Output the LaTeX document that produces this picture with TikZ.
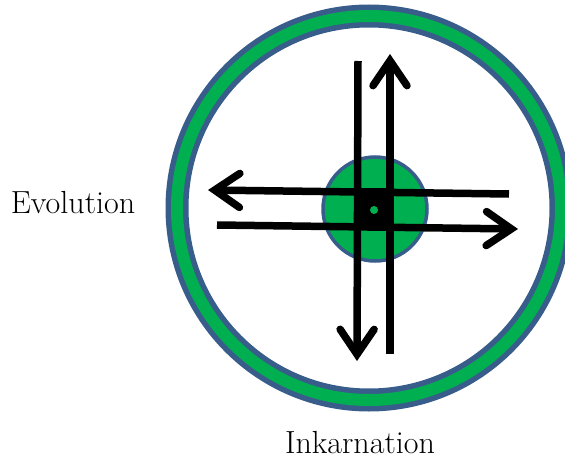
\documentclass[tikz,border=0pt]{standalone}
\usepackage{tikz}
\usetikzlibrary{arrows.meta}
\definecolor{cRim} {HTML}{385D8A}
\definecolor{cCore}{HTML}{00B050}
\tikzset{
  rimout/.style ={draw=cRim,line width=23pt},
  rimin/.style  ={draw=cCore,line width=12pt},
  core/.style   ={circle,draw=cRim,fill=cCore,line width=3.5pt,
                  minimum size=104pt,inner sep=0pt},
  hub/.style    ={fill=black,minimum width=40pt,minimum height=42pt,inner sep=0pt},
  dotc/.style   ={circle,fill=cCore,minimum size=8pt,inner sep=0pt},
  flow/.style   ={-{Straight Barb[length=25pt,width=34pt,line cap=round,line join=miter]},
                  draw=black,line width=7.5pt},
  lbl/.style    ={font=\fontsize{32}{38}\selectfont,inner sep=0pt,anchor=base},
}

\begin{document}
\begin{tikzpicture}[x=1pt,y=-1pt]
\useasboundingbox (0,0) rectangle (565,460);
\clip (0,0) rectangle (565,460);

% --- outer ring ----------------------------------------------------------
\coordinate (c) at (369,208);
\draw[rimout] (c) circle (192);
\draw[rimin]  (c) circle (192);

% --- core ------------------------------------------------------------------
\node[core] (core) at (375,209) {};

% --- arrow end points --------------------------------------------------------
\coordinate (evA) at (509,194);
\coordinate (evB) at (208,190);
\coordinate (ivA) at (217,225);
\coordinate (ivB) at (518,229);
\coordinate (inA) at (358,61);
\coordinate (inB) at (357,361);
\coordinate (upA) at (390,354);
\coordinate (upB) at (390,54);

\draw[flow] (evA) -- (evB);
\draw[flow] (ivA) -- (ivB);
\draw[flow] (inA) -- (inB);
\draw[flow] (upA) -- (upB);

\node[hub]  (mid) at (374,209) {};
\node[dotc] (dot) at (374,210) {};

% --- labels ------------------------------------------------------------------
\node[lbl] (evo) at (73,213)  {Evolution};
\node[lbl] (ink) at (360,453) {Inkarnation};

\end{tikzpicture}
\end{document}
